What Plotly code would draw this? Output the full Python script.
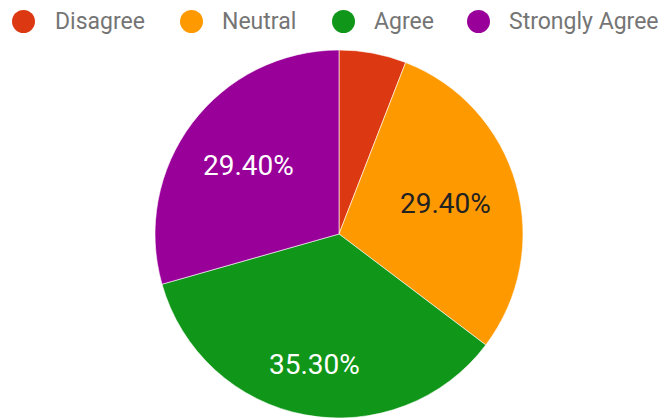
import math
import plotly.graph_objects as go

# Survey response shares (percent)
categories = ["Disagree", "Neutral", "Agree", "Strongly Agree"]
shares = [5.9, 29.4, 35.3, 29.4]
colors = ["#dc3912", "#ff9900", "#109618", "#990099"]
label_colors = ["#ffffff", "#222222", "#ffffff", "#ffffff"]

W, H = 668, 418
MIN_LABEL_SHARE = 10  # slices smaller than this get no label
LABEL_SIZE = 28

# Pie geometry in pixels
pie_left, pie_right, pie_top = 155, 523, 50
cx = (pie_left + pie_right) / 2
radius = (pie_right - pie_left) / 2
cy = pie_top + radius

fig = go.Figure()
fig.add_trace(go.Pie(
    labels=categories,
    values=shares,
    textinfo="none",
    marker=dict(colors=colors, line=dict(color="#ffffff", width=0.6)),
    sort=False,
    direction="clockwise",
    rotation=0,
    showlegend=False,
    hoverinfo="skip",
    domain=dict(x=[pie_left / W, pie_right / W], y=[0, (H - pie_top) / H]),
))

# Percentage labels: centred on each slice's bisector, pushed out until
# the outer corner of the text box reaches a fixed fraction of the radius
total = sum(shares)
half_w = 3.244 * LABEL_SIZE / 2
half_h = 0.711 * LABEL_SIZE / 2
reach = 0.853 * radius
start = 0.0
for v, tc in zip(shares, label_colors):
    mid = (start + v / 2) / total * 2 * math.pi
    start += v
    if v < MIN_LABEL_SHARE:
        continue
    ux, uy = math.sin(mid), -math.cos(mid)
    b = abs(ux) * half_w + abs(uy) * half_h
    c = half_w ** 2 + half_h ** 2 - reach ** 2
    d = -b + math.sqrt(b * b - c)
    px, py = cx + d * ux, cy + d * uy
    fig.add_annotation(
        x=px / W, y=1 - py / H, xref="paper", yref="paper",
        xanchor="center", yanchor="middle", showarrow=False,
        text=f"{v:.2f}%",
        font=dict(family="Roboto", size=LABEL_SIZE, color=tc),
    )

# Legend row with round swatches
legend_circle_x = [23.5, 191.5, 343.5, 478.5]
legend_text_x = [53, 220, 372, 507]
legend_y = 21.5
r = 11.5
for name, col, lx, tx in zip(categories, colors, legend_circle_x, legend_text_x):
    fig.add_shape(
        type="circle", xref="paper", yref="paper",
        xsizemode="pixel", ysizemode="pixel",
        xanchor=lx / W, yanchor=1 - legend_y / H,
        x0=-r, x1=r, y0=-r, y1=r,
        fillcolor=col, line=dict(width=0),
    )
    fig.add_annotation(
        x=tx / W, y=1 - legend_y / H, xref="paper", yref="paper",
        xanchor="left", yanchor="middle", showarrow=False,
        text=name, font=dict(family="Roboto", size=23, color="#757575"),
    )

fig.update_layout(
    width=W, height=H,
    margin=dict(l=0, r=0, t=0, b=0),
    paper_bgcolor="#ffffff",
    plot_bgcolor="#ffffff",
)

fig.write_html("out.html")
